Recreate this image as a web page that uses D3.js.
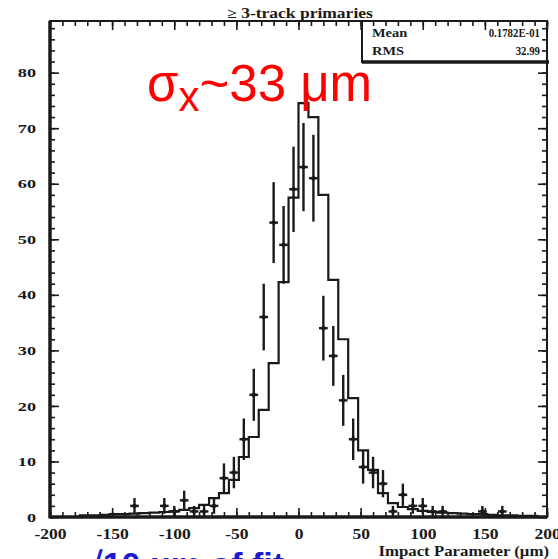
<!DOCTYPE html>
<html><head><meta charset="utf-8">
<script src="https://cdn.jsdelivr.net/npm/d3@7"></script>
<style>
html,body{margin:0;padding:0;background:#fff;overflow:hidden;}
svg{display:block;}
</style></head>
<body>
<svg id="chart" width="558" height="559"></svg>
<script>
// ---- data ----
const binCenters = [-196,-188,-180,-172,-164,-156,-148,-140,-132,-124,-116,-108,-100,-92,-84,-76,-68,-60,-52,-44,-36,-28,-20,-12,-4,
                    4,12,20,28,36,44,52,60,68,76,84,92,100,108,116,124,132,140,148,156,164,172,180,188,196];
const histValues = [0,0,0,0.3,0.3,0.4,0.5,0.5,0.6,0.7,0.8,0.9,1.0,1.3,1.6,2.2,3.4,4.3,6.7,10.8,14.4,19.3,27.7,42.3,57.5,74.5,
                    72,58,42.7,32,21.4,12,8.5,4.3,2.5,1.8,1.4,1.1,0.9,0.8,0.7,0.6,0.5,0.5,0.4,0.3,0.3,0.2,0.2,0];
const dataCenters = [-132,-108,-100,-92,-84,-76,-68,-60,-52,-44,-36,-28,-20,-12,-4,4,12,20,28,36,44,52,60,68,76,84,92,100,108,116,148,164];
const dataValues  = [2,2,1,3,1,1,2,7,8,14,22,36,53,49,59,63,61,34,29,21,14,9,8,6,1,4,2,2,1,1,1,1];
const xMajorTicks = [-200,-150,-100,-50,0,50,100,150,200];
const yMajorTicks = [0,10,20,30,40,50,60,70,80];
const statsLabels = ["Mean","RMS"];
const statsValues = ["0.1782E-01","32.99"];
const titleText = "\u2265 3-track primaries";
const xAxisTitle = "Impact Parameter (\u03BCm)";
const binWidth = 8;

// ---- layout ----
const L = 50, R = 547, T = 21, B = 517;
const svg = d3.select("#chart");
const x = d3.scaleLinear().domain([-200,200]).range([L,R]);
const y = d3.scaleLinear().domain([0,89.3]).range([B,T]);
const serif = "'Liberation Serif','Times New Roman',serif";
const ink = "#1a1a1a";
const hv = histValues.slice(0, binCenters.length);

// ---- axes (ticks pointing inward, ROOT style) ----
function styleAxis(g){ g.select(".domain").remove(); g.selectAll("line").attr("stroke",ink).attr("stroke-width",1.6); }
const xMinor = d3.range(-200,201,10), yMinor = d3.range(0,89,2);
svg.append("g").attr("transform",`translate(0,${B})`).call(d3.axisBottom(x).tickValues(xMinor).tickFormat("").tickSize(-5)).call(styleAxis);
svg.append("g").attr("transform",`translate(0,${T})`).call(d3.axisTop(x).tickValues(xMinor).tickFormat("").tickSize(-5)).call(styleAxis);
svg.append("g").attr("transform",`translate(0,${T})`).call(d3.axisTop(x).tickValues(xMajorTicks).tickFormat("").tickSize(-9)).call(styleAxis);
const gx = svg.append("g").attr("transform",`translate(0,${B})`)
  .call(d3.axisBottom(x).tickValues(xMajorTicks).tickFormat(d3.format("d")).tickSize(-9).tickPadding(12)).call(styleAxis);
gx.selectAll("text").attr("font-family",serif).attr("font-weight","bold").attr("font-size",14).attr("fill",ink)
  .text(d => d < 0 ? "-" + Math.abs(d) : d);

svg.append("g").attr("transform",`translate(${L},0)`).call(d3.axisLeft(y).tickValues(yMinor).tickFormat("").tickSize(-5)).call(styleAxis);
svg.append("g").attr("transform",`translate(${R},0)`).call(d3.axisRight(y).tickValues(yMinor).tickFormat("").tickSize(-5)).call(styleAxis);
svg.append("g").attr("transform",`translate(${R},0)`).call(d3.axisRight(y).tickValues(yMajorTicks).tickFormat("").tickSize(-9)).call(styleAxis);
const gy = svg.append("g").attr("transform",`translate(${L},0)`)
  .call(d3.axisLeft(y).tickValues(yMajorTicks).tickFormat(d3.format("d")).tickSize(-9).tickPadding(14)).call(styleAxis);
gy.selectAll("text").attr("font-family",serif).attr("font-weight","bold").attr("font-size",13).attr("fill",ink);

function stretch(sel, f){ sel.each(function(){ const w=this.getComputedTextLength(); d3.select(this).attr("textLength",w*f).attr("lengthAdjust","spacingAndGlyphs"); }); }
stretch(gx.selectAll("text"),1.25);
stretch(gy.selectAll("text"),1.4);

// ---- frame ----
svg.append("rect").attr("x",L).attr("y",T).attr("width",R-L).attr("height",B-T)
  .attr("fill","none").attr("stroke",ink).attr("stroke-width",2);
svg.append("line").attr("x1",L).attr("x2",L).attr("y1",T).attr("y2",B+1.5).attr("stroke",ink).attr("stroke-width",3.5);
svg.append("line").attr("x1",L).attr("x2",R).attr("y1",B).attr("y2",B).attr("stroke",ink).attr("stroke-width",3.5);

// ---- histogram ----
const histPts = binCenters.map((c,i)=>({e:c-binWidth/2, v:hv[i]}));
histPts.push({e:binCenters[binCenters.length-1]+binWidth/2, v:hv[hv.length-1]});
const line = d3.line().x(d=>x(d.e)).y(d=>y(d.v)).curve(d3.curveStepAfter);
svg.append("path").attr("d",line(histPts)).attr("fill","none").attr("stroke",ink).attr("stroke-width",2.2);

// ---- data points with error bars ----
const pts = svg.append("g").attr("stroke",ink);
dataCenters.forEach((c,i)=>{
  const v = dataValues[i], e = Math.sqrt(v);
  pts.append("line").attr("x1",x(c)).attr("x2",x(c)).attr("y1",y(v-e)).attr("y2",y(v+e)).attr("stroke-width",2.4);
  pts.append("line").attr("x1",x(c-binWidth/2+0.5)).attr("x2",x(c+binWidth/2-0.5)).attr("y1",y(v)).attr("y2",y(v)).attr("stroke-width",2.4);
  pts.append("circle").attr("cx",x(c)).attr("cy",y(v)).attr("r",2.2).attr("fill",ink).attr("stroke","none");
});

// ---- stats box ----
const sb = {x0:362, x1:R, y0:T, y1:62};
svg.append("rect").attr("x",sb.x0).attr("y",sb.y0).attr("width",sb.x1-sb.x0).attr("height",sb.y1-sb.y0)
  .attr("fill","none").attr("stroke",ink).attr("stroke-width",2);
svg.append("line").attr("x1",sb.x0).attr("x2",sb.x1+2).attr("y1",sb.y1).attr("y2",sb.y1).attr("stroke",ink).attr("stroke-width",3.5);
statsLabels.forEach((s,i)=>{
  const yy = 37 + i*18;
  const t1 = svg.append("text").attr("x",372).attr("y",yy).attr("font-family",serif).attr("font-weight","bold")
    .attr("font-size",12).attr("fill",ink).text(s);
  const t2 = svg.append("text").attr("x",540).attr("y",yy).attr("text-anchor","end").attr("font-family",serif).attr("font-weight","bold")
    .attr("font-size",12).attr("fill",ink).text(statsValues[i]);
  stretch(t1,1.2); stretch(t2,0.9);
});

// ---- title ----
const tt = svg.append("text").attr("x",300).attr("y",18).attr("text-anchor","middle").attr("font-family",serif)
  .attr("font-weight","bold").attr("font-size",14).attr("fill",ink).text(titleText);
stretch(tt,1.25);

// ---- x axis title ----
const xt = svg.append("text").attr("x",549).attr("y",556).attr("text-anchor","end").attr("font-family",serif)
  .attr("font-weight","bold").attr("font-size",14).attr("fill",ink).text(xAxisTitle);
stretch(xt,1.2);

// ---- red annotation ----
const ann = svg.append("text").attr("x",147).attr("y",101).attr("font-family","'Liberation Sans',Arial,sans-serif")
  .attr("font-size",51).attr("fill","#ff0000");
ann.append("tspan").text("\u03C3");
ann.append("tspan").attr("dy",10).attr("font-size",42).text("x");
ann.append("tspan").attr("dy",-10).text("~33 \u03BCm");

// ---- cut-off blue caption at the very bottom ----
svg.append("text").attr("x",84).attr("y",576).attr("font-family","'Liberation Sans',Arial,sans-serif")
  .attr("font-weight","bold").attr("font-size",34).attr("fill","#1a1ad0").text("\u221A10 \u03BCm of fit");
</script>
</body></html>
